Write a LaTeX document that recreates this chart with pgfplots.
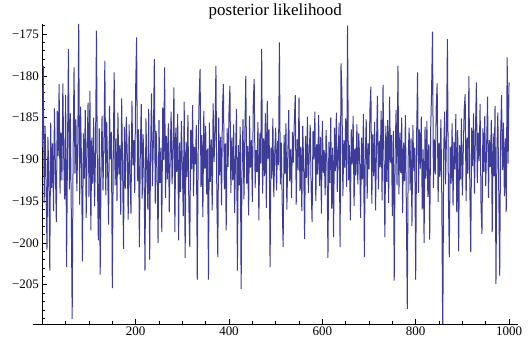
\documentclass[border=0pt]{standalone}
\usepackage{fontspec}
\setmainfont{Liberation Serif}
\usepackage{pgfplots}
\pgfplotsset{compat=1.18}
\definecolor{mmablue}{rgb}{0.24,0.24,0.6}
\begin{document}
\begin{tikzpicture}
\useasboundingbox (-32.7bp,-20bp) rectangle (497.3bp,324bp);
\begin{axis}[
  at={(0,0)}, anchor=south west,
  scale only axis, width=485.2bp, height=300bp,
  xmin=-20.6, xmax=1019, ymin=-209.7, ymax=-173.8,
  axis x line=bottom, axis y line=middle,
  axis line style={-, line width=0.5bp, black},
  xtick={200,400,600,800,1000}, xticklabels={200,400,600,800,1000},
  minor xtick={50,100,...,1000},
  ytick={-205,-200,...,-175}, yticklabels={−205,−200,−195,−190,−185,−180,−175},
  minor ytick={-209,-208,...,-174},
  tick align=inside, major tick length=4.5bp, minor tick length=2.5bp,
  tick style={line width=0.5bp, black},
  ticklabel style={font=\fontsize{13}{13}\selectfont},
  xticklabel style={inner sep=3bp},
  /pgf/number format/assume math mode=true,
  title={posterior likelihood},
  title style={font=\fontsize{17}{17}\selectfont, at={(axis description cs:0.5,1)}, anchor=base, yshift=2.3bp},
  clip=true,
]
\addplot[mmablue, line width=1.0bp, no markers] table {
x y
0 -188.5
2 -178.8
4 -195.2
6 -186.0
8 -192.7
10 -200.8
12 -187.3
14 -191.9
16 -203.3
18 -185.6
20 -193.4
22 -188.1
24 -196.2
26 -183.9
28 -191.0
30 -197.5
32 -184.2
34 -189.6
36 -181.0
38 -194.1
40 -186.8
42 -192.5
44 -180.9
46 -190.2
48 -194.8
50 -182.3
52 -202.9
54 -188.4
56 -176.8
58 -193.6
60 -184.5
62 -195.9
64 -209.1
66 -189.3
68 -179.0
70 -191.7
72 -185.2
74 -193.8
76 -188.0
78 -173.8
80 -195.4
82 -183.7
84 -190.6
86 -202.2
88 -186.9
90 -192.3
92 -184.1
94 -197.0
96 -188.7
98 -183.2
100 -194.5
102 -181.8
104 -198.5
106 -187.4
108 -192.9
110 -185.0
112 -195.6
114 -189.1
116 -174.6
118 -192.0
120 -199.7
122 -186.3
124 -203.8
126 -190.5
128 -184.8
130 -193.7
132 -188.2
134 -178.2
136 -194.3
138 -185.5
140 -191.4
142 -197.8
144 -183.6
146 -190.0
148 -186.7
150 -205.4
152 -189.8
154 -179.6
156 -193.1
158 -187.5
160 -195.0
162 -184.4
164 -191.8
166 -188.3
168 -196.6
170 -182.7
172 -190.9
174 -200.7
176 -186.1
178 -193.5
180 -184.9
182 -189.4
184 -197.2
186 -185.8
188 -192.2
190 -196.5
192 -183.0
194 -190.7
196 -187.7
198 -194.0
200 -181.5
202 -175.4
204 -192.6
206 -186.4
208 -200.5
210 -188.9
212 -183.4
214 -194.7
216 -187.0
218 -191.3
220 -203.3
222 -185.1
224 -190.4
226 -196.0
228 -184.0
230 -202.0
232 -189.0
234 -182.1
236 -193.2
238 -187.8
240 -178.0
242 -195.3
244 -186.6
246 -191.6
248 -200.0
250 -185.3
252 -192.8
254 -188.6
256 -198.7
258 -183.8
260 -190.1
262 -179.0
264 -194.6
266 -187.2
268 -192.4
270 -185.7
272 -196.3
274 -189.5
276 -184.3
278 -193.0
280 -188.8
282 -181.4
284 -198.7
286 -186.2
288 -191.5
290 -184.6
292 -199.7
294 -188.0
296 -193.9
298 -185.4
300 -190.8
302 -196.8
304 -183.1
306 -201.8
308 -187.9
310 -192.1
312 -184.7
314 -195.7
316 -200.5
318 -186.5
320 -191.2
322 -183.5
324 -194.4
326 -188.5
328 -190.6
330 -185.9
332 -204.4
334 -189.2
336 -182.6
338 -179.2
340 -193.3
342 -187.1
344 -196.9
346 -184.2
348 -191.1
350 -186.0
352 -194.2
354 -188.7
356 -204.4
358 -185.6
360 -192.7
362 -187.6
364 -196.1
366 -183.3
368 -190.3
370 -186.8
372 -178.8
374 -194.9
376 -201.7
378 -185.0
380 -191.9
382 -187.3
384 -195.5
386 -183.9
388 -181.0
390 -193.6
392 -188.1
394 -198.5
396 -186.3
398 -190.9
400 -184.4
402 -181.2
404 -194.0
406 -187.4
408 -192.5
410 -185.8
412 -196.4
414 -189.7
416 -184.0
418 -203.3
420 -188.3
422 -193.1
424 -186.1
426 -205.5
428 -190.2
430 -185.2
432 -194.8
434 -187.0
436 -180.0
438 -192.9
440 -188.4
442 -196.7
444 -184.8
446 -191.0
448 -187.7
450 -195.1
452 -183.2
454 -180.4
456 -193.4
458 -188.9
460 -191.5
462 -185.5
464 -197.3
466 -186.9
468 -190.5
470 -176.8
472 -194.1
474 -187.5
476 -192.0
478 -184.5
480 -195.8
482 -183.0
484 -189.9
486 -186.4
488 -202.9
490 -188.6
492 -192.3
494 -185.1
496 -194.5
498 -189.3
500 -186.2
502 -193.7
504 -187.8
506 -190.7
508 -176.0
510 -193.0
512 -188.0
514 -195.2
516 -200.5
518 -187.1
520 -191.7
522 -185.7
524 -196.0
526 -189.4
528 -184.1
530 -192.6
532 -188.8
534 -194.6
536 -186.7
538 -190.4
540 -185.3
542 -182.3
544 -195.4
546 -187.6
548 -191.3
550 -182.6
552 -193.8
554 -188.5
556 -196.2
558 -186.0
560 -190.8
562 -199.5
564 -187.2
566 -192.2
568 -184.9
570 -194.0
572 -189.1
574 -185.9
576 -193.5
578 -197.5
580 -186.6
582 -190.0
584 -184.3
586 -195.0
588 -188.2
590 -191.8
592 -184.7
594 -193.2
596 -187.3
598 -196.5
600 -185.4
602 -191.6
604 -188.9
606 -194.3
608 -186.5
610 -190.3
612 -201.8
614 -187.9
616 -192.8
618 -185.0
620 -195.9
622 -188.6
624 -199.3
626 -186.2
628 -191.4
630 -184.4
632 -193.9
634 -189.0
636 -185.6
638 -200.5
640 -178.5
642 -182.0
644 -194.4
646 -187.7
648 -191.0
650 -185.1
652 -193.3
654 -174.0
656 -192.5
658 -188.3
660 -197.3
662 -186.4
664 -190.6
666 -184.8
668 -195.6
670 -188.7
672 -191.9
674 -185.8
676 -193.0
678 -186.9
680 -190.1
682 -197.0
684 -187.4
686 -192.4
688 -184.6
690 -201.7
692 -189.5
694 -185.2
696 -194.7
698 -188.1
700 -191.2
702 -184.0
704 -181.3
706 -195.3
708 -187.0
710 -192.0
712 -185.5
714 -196.1
716 -188.4
718 -182.4
720 -193.6
722 -187.8
724 -190.9
726 -184.2
728 -194.9
730 -181.1
732 -189.7
734 -199.3
736 -186.0
738 -192.7
740 -185.3
742 -195.2
744 -182.5
746 -190.4
748 -187.1
750 -196.8
752 -186.6
754 -204.5
756 -189.2
758 -184.1
760 -193.1
762 -178.8
764 -194.2
766 -186.8
768 -191.6
770 -185.0
772 -196.4
774 -188.0
776 -192.6
778 -184.7
780 -195.8
782 -207.9
784 -189.6
786 -186.2
788 -193.7
790 -187.5
792 -198.0
794 -185.9
796 -191.4
798 -188.6
800 -204.4
802 -187.2
804 -179.6
806 -194.0
808 -186.4
810 -191.1
812 -184.9
814 -196.0
816 -188.8
818 -200.0
820 -186.1
822 -192.3
824 -185.4
826 -194.5
828 -188.2
830 -199.6
832 -186.7
834 -182.0
836 -174.7
838 -193.4
840 -187.6
842 -191.8
844 -183.7
846 -180.9
848 -195.1
850 -188.0
852 -192.1
854 -185.2
856 -194.8
858 -212.0
860 -189.0
862 -184.3
864 -193.0
866 -187.3
868 -175.6
870 -193.8
872 -201.7
874 -188.5
876 -192.9
878 -185.7
880 -195.5
882 -187.9
884 -191.2
886 -184.6
888 -196.3
890 -186.5
892 -201.0
894 -188.3
896 -192.4
898 -185.1
900 -194.3
902 -188.9
904 -184.0
906 -182.2
908 -195.0
910 -187.4
912 -191.7
914 -180.0
916 -193.5
918 -201.1
920 -186.2
922 -190.8
924 -184.5
926 -194.1
928 -187.0
930 -180.8
932 -192.8
934 -186.8
936 -190.2
938 -183.4
940 -195.7
942 -198.9
944 -186.3
946 -191.5
948 -184.8
950 -193.2
952 -188.4
954 -182.5
956 -194.6
958 -187.7
960 -190.9
962 -185.3
964 -198.7
966 -186.9
968 -192.0
970 -183.6
972 -204.9
974 -189.1
976 -184.4
978 -193.9
980 -203.9
982 -187.2
984 -182.3
986 -191.3
988 -185.6
990 -194.4
992 -187.5
994 -196.3
996 -177.8
998 -190.5
1000 -180.8
};
\end{axis}
\end{tikzpicture}
\end{document}
